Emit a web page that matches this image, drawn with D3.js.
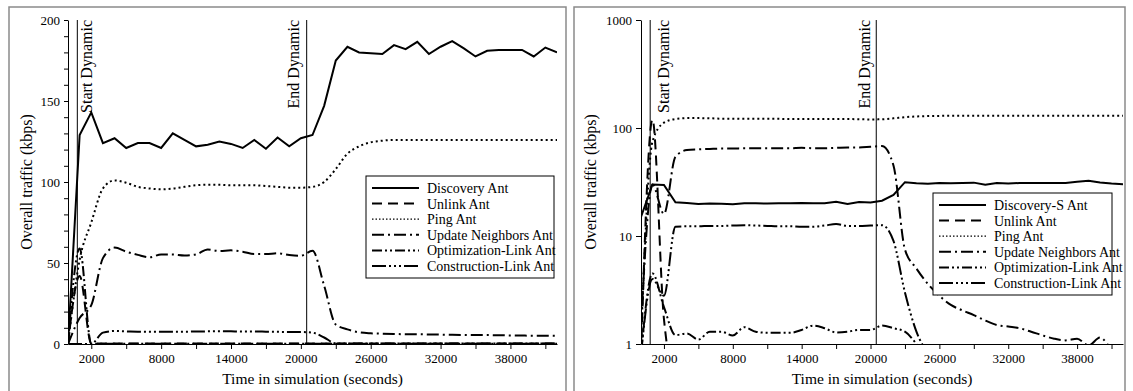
<!DOCTYPE html>
<html>
<head>
<meta charset="utf-8">
<script src="https://cdn.jsdelivr.net/npm/d3@7"></script>
<style>
body { margin: 0; background: #fff; }
</style>
</head>
<body>
<script>
// sample times (seconds)
var times = [0, 1000, 2000, 3000, 4000, 5000, 6000, 7000, 8000, 9000, 10000,
   11000, 12000, 13000, 14000, 15000, 16000, 17000, 18000, 19000, 20000,
   21000, 22000, 23000, 24000, 25000, 26000, 27000, 28000, 29000, 30000,
   31000, 32000, 33000, 34000, 35000, 36000, 37000, 38000, 39000, 40000,
   41000, 42000];

var startDynamic = 800;
var endDynamic = 20500;

var leftNames = ["Discovery Ant", "Unlink Ant", "Ping Ant", "Update Neighbors Ant",
   "Optimization-Link Ant", "Construction-Link Ant"];
var rightNames = ["Discovery-S Ant", "Unlink Ant", "Ping Ant", "Update Neighbors Ant",
   "Optimization-Link Ant", "Construction-Link Ant"];

// left chart (kbps)
var leftDiscovery = [0, 129, 143, 124, 127, 121, 124, 124, 121, 130, 126, 122, 123, 125, 123.5,
   121, 126, 120.5, 127.5, 122, 127, 129, 147, 175, 183.5, 180, 179.5, 179, 184.5, 182, 186.5,
   179, 183.5, 187, 182.5, 177.5, 181, 181.5, 181.5, 181.5, 177.5, 183, 180];
var leftUnlink = [0, 42, 0.4, 0.3, 0.3, 0.3, 0.3, 0.3, 0.3, 0.3, 0.3, 0.3, 0.3, 0.3, 0.3,
   0.3, 0.3, 0.3, 0.3, 0.3, 0.3, 0.3, 0.3, 0.3, 0.3, 0.3, 0.3, 0.3, 0.3, 0.3, 0.3,
   0.3, 0.3, 0.3, 0.3, 0.3, 0.3, 0.3, 0.3, 0.3, 0.3, 0.3, 0.3];
var leftPing = [0, 52, 75, 96, 101, 99.5, 97, 96, 95.5, 96, 97, 98, 98.3, 98.3, 98,
   98, 98, 97.5, 97, 96.5, 96.5, 97, 100, 108, 117.5, 122, 124.5, 125.5, 126, 126, 126,
   126, 126, 126, 126, 126, 126, 126, 126, 126, 126, 126, 126];
var leftUpdate = [0, 16, 24, 53, 59.5, 57, 55, 53.5, 55.3, 55.2, 54.6, 55.3, 58.4, 57.4, 57.8,
   57, 55.5, 55.5, 56, 55, 54.5, 57.5, 36, 12, 9, 7.2, 6.6, 6.4, 6.2, 6, 6,
   5.9, 5.8, 5.7, 5.6, 5.5, 5.5, 5.4, 5.3, 5.2, 5.1, 5.1, 5];
var leftOptim = [0, 59, 0.2, 0.2, 0.2, 0.2, 0.2, 0.2, 0.2, 0.2, 0.2, 0.2, 0.2, 0.2, 0.2,
   0.2, 0.2, 0.2, 0.2, 0.2, 0.2, 0.2, 0.2, 0.2, 0.2, 0.2, 0.2, 0.2, 0.2, 0.2, 0.2,
   0.2, 0.2, 0.2, 0.2, 0.2, 0.2, 0.2, 0.2, 0.2, 0.2, 0.2, 0.2];
var leftConstr = [0, 0, 0, 7, 8, 7.8, 7.6, 7.5, 7.5, 7.5, 7.6, 7.7, 7.8, 7.9, 7.8,
   7.7, 7.7, 7.6, 7.5, 7.4, 7.4, 7, 4, 0.4, 0.3, 0.3, 0.3, 0.3, 0.3, 0.3, 0.3,
   0.3, 0.3, 0.3, 0.3, 0.3, 0.3, 0.3, 0.3, 0.3, 0.3, 0.3, 0.3];

// right chart (kbps, log)
var rightDiscovery = [15, 30, 29.7, 20.5, 20.2, 19.8, 20, 19.9, 19.7, 20.1, 20.1, 20, 20.1, 20.1, 20.2,
   20.1, 20.1, 20.8, 19.8, 20.6, 20.4, 21.2, 24, 31.5, 30.8, 30.5, 31, 30.8, 31, 31.2, 29.8,
   31, 30.6, 31, 31, 31, 30.9, 31, 31.8, 32.5, 31.3, 30.6, 30.2];
var rightUnlink = [0.8, 120, 1.7, 0.5, 0.5, 0.5, 0.5, 0.5, 0.5, 0.5, 0.5, 0.5, 0.5, 0.5, 0.5,
   0.5, 0.5, 0.5, 0.5, 0.5, 0.5, 0.5, 0.5, 0.5, 0.5, 0.5, 0.5, 0.5, 0.5, 0.5, 0.5,
   0.5, 0.5, 0.5, 0.5, 0.5, 0.5, 0.5, 0.5, 0.5, 0.5, 0.5, 0.5];
var rightPing = [1.1, 75, 112, 121, 123.5, 123.5, 123, 122, 122, 121.5, 121.5, 121.5, 121.5, 121, 121,
   121, 121, 121, 121, 120.5, 120, 120.5, 123, 126, 128, 129, 129.5, 130, 130, 130, 130,
   130, 130, 130, 130, 130, 130, 130, 130, 130, 130, 130, 130];
var rightUpdate = [1.5, 30, 16, 54, 62.5, 63.5, 64, 64.5, 64.5, 65, 65, 65, 65, 65, 65.5,
   65, 65, 65.5, 66, 66, 67, 68, 45, 7.5, 5, 3.6, 2.8, 2.3, 2.05, 1.85, 1.65,
   1.5, 1.45, 1.4, 1.3, 1.2, 1.12, 1.08, 1.12, 0.97, 1.15, 0.9, 0.8];
var rightOptim = [0.8, 4.5, 2.2, 1.21, 1.25, 1.1, 1.3, 1.3, 1.2, 1.43, 1.3, 1.27, 1.27, 1.27, 1.35,
   1.48, 1.4, 1.28, 1.3, 1.35, 1.35, 1.48, 1.4, 1.3, 1.0, 0.7, 0.5, 0.5, 0.5, 0.5, 0.5,
   0.5, 0.5, 0.5, 0.5, 0.5, 0.5, 0.5, 0.5, 0.5, 0.5, 0.5, 0.5];
var rightConstr = [0.8, 4, 2.8, 12.2, 12.3, 12.3, 12.4, 12.4, 12.5, 12.6, 12.5, 12.4, 12.3, 12.3, 12.2,
   12.2, 12.5, 12.9, 12.4, 12.4, 12.5, 12.6, 9, 3, 1.3, 0.8, 0.5, 0.5, 0.5, 0.5, 0.5,
   0.5, 0.5, 0.5, 0.5, 0.5, 0.5, 0.5, 0.5, 0.5, 0.5, 0.5, 0.5];

// axis ticks
var xTicks = [2000, 5000, 8000, 11000, 14000, 17000, 20000, 23000, 26000, 29000, 32000, 35000, 38000, 41000];
var xLabels = [2000, 8000, 14000, 20000, 26000, 32000, 38000];
var yLinTicks = [0, 50, 100, 150, 200];
var yLogTicks = [1, 10, 100, 1000];

// line styles, same order as the legend
var dashes = ["none", "10,6", "2,3", "12,4,2,4", "10,3,2,3,2,3", "14,3,2,3,2,3,2,3"];

var serif = "Liberation Serif";

var svg = d3.select("body")
            .append("svg")
               .attr("width", 1133)
               .attr("height", 391);

function drawPanel(p) {
   var top = 20, bottom = 344;

   var g = svg.append("g");

   // panel frame
   g.append("rect")
      .attr("x", p.frame[0])
      .attr("y", 7)
      .attr("width", p.frame[1] - p.frame[0])
      .attr("height", 420)
      .attr("fill", "none")
      .attr("stroke", "#8a8a8a")
      .attr("stroke-width", 1.5);

   var x = d3.scaleLinear()
            .domain([0, 42000])
            .range([p.x0, p.x1]);

   var y = (p.log ? d3.scaleLog().domain([1, 1000]) : d3.scaleLinear().domain([0, 200]))
            .range([bottom, top]);

   g.append("clipPath")
      .attr("id", p.id + "clip")
      .append("rect")
         .attr("x", p.x0)
         .attr("y", top - 2)
         .attr("width", p.x1 - p.x0)
         .attr("height", bottom - top + 2);

   // dynamic phase markers
   [startDynamic, endDynamic].forEach(function(t, i) {
      g.append("line")
         .attr("x1", x(t)).attr("x2", x(t))
         .attr("y1", top).attr("y2", bottom)
         .attr("stroke", "#000")
         .attr("stroke-width", 1);
      var bx = x(t) + p.markOffset[i];
      g.append("text")
         .attr("transform", "translate(" + bx + "," + top + ") rotate(-90)")
         .attr("text-anchor", "end")
         .style("font-family", serif)
         .style("font-size", "16px")
         .text(i == 0 ? "Start Dynamic" : "End Dynamic");
   });

   var line = d3.line()
      .x(function(d) { return x(d[0]); })
      .y(function(d) { return y(d[1]); });

   var plot = g.append("g")
      .attr("clip-path", "url(#" + p.id + "clip)");

   p.series.forEach(function(vals, i) {
      var pts = times.map(function(t, j) { return [t, vals[j]]; });
      plot.append("path")
         .attr("d", line.curve(i == 0 ? d3.curveLinear : d3.curveMonotoneX)(pts))
         .attr("fill", "none")
         .attr("stroke", "#000")
         .attr("stroke-width", 2)
         .attr("stroke-dasharray", dashes[i]);
   });

   // x axis
   var xAxis = d3.axisBottom(x)
      .tickValues(xTicks)
      .tickSize(5)
      .tickSizeOuter(0)
      .tickPadding(5)
      .tickFormat(function(d) { return xLabels.indexOf(d) >= 0 ? d : ""; });

   g.append("g")
      .attr("transform", "translate(0," + bottom + ")")
      .call(xAxis)
      .call(function(a) { a.selectAll("text").style("font-family", serif).style("font-size", "13px"); });

   // y axis
   var yAxis;
   if (p.log) {
      yAxis = d3.axisLeft(y).tickValues(yLogTicks).tickSize(5).tickSizeOuter(0)
         .tickPadding(4).tickFormat(d3.format("d"));
   } else {
      yAxis = d3.axisLeft(y).ticks(20).tickSize(4).tickSizeOuter(0).tickPadding(4)
         .tickFormat(function(d) { return yLinTicks.indexOf(d) >= 0 ? d : ""; });
   }
   g.append("g")
      .attr("transform", "translate(" + p.x0 + ",0)")
      .call(yAxis)
      .call(function(a) { a.selectAll("text").style("font-family", serif).style("font-size", "13px"); });

   // axis titles
   g.append("text")
      .attr("x", (p.x0 + p.x1) / 2)
      .attr("y", 384)
      .attr("text-anchor", "middle")
      .style("font-family", serif)
      .style("font-size", "15.5px")
      .text("Time in simulation (seconds)");

   g.append("text")
      .attr("transform", "translate(" + p.ytitle + "," + (top + bottom) / 2 + ") rotate(-90)")
      .attr("text-anchor", "middle")
      .style("font-family", serif)
      .style("font-size", "16px")
      .text("Overall traffic (kbps)");

   // legend
   var lg = g.append("g");
   lg.append("rect")
      .attr("x", p.legend[0])
      .attr("y", p.legend[1])
      .attr("width", p.legend[2])
      .attr("height", p.legend[3])
      .attr("fill", "#fff")
      .attr("stroke", "#000")
      .attr("stroke-width", 1);

   p.names.forEach(function(name, i) {
      var ry = p.legend[1] + 12 + i * 15.6;
      lg.append("line")
         .attr("x1", p.legend[0] + 6).attr("x2", p.legend[0] + 53)
         .attr("y1", ry).attr("y2", ry)
         .attr("stroke", "#000")
         .attr("stroke-width", i == 2 ? 1.2 : 2)
         .attr("stroke-dasharray", i == 2 ? "1.5,2" : dashes[i]);
      lg.append("text")
         .attr("x", p.legend[0] + 61)
         .attr("y", ry + 5)
         .style("font-family", serif)
         .style("font-size", "14px")
         .text(name);
   });
}

drawPanel({
   id: "left", log: false, frame: [9, 566], x0: 68, x1: 557, ytitle: 32,
   markOffset: [15, -8], legend: [366, 176, 188, 102], names: leftNames,
   series: [leftDiscovery, leftUnlink, leftPing, leftUpdate, leftOptim, leftConstr]
});

drawPanel({
   id: "right", log: true, frame: [574, 1125], x0: 641, x1: 1123, ytitle: 596,
   markOffset: [19, -6], legend: [933, 193, 179, 102], names: rightNames,
   series: [rightDiscovery, rightUnlink, rightPing, rightUpdate, rightOptim, rightConstr]
});
</script>
</body>
</html>
